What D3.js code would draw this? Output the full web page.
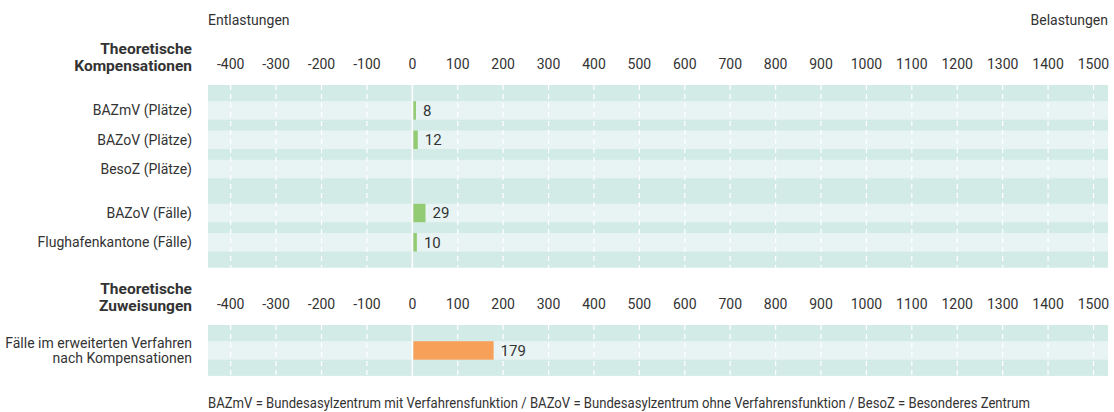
<!DOCTYPE html>
<html><head><meta charset="utf-8">
<script src="https://cdn.jsdelivr.net/npm/d3@7"></script>
<style>
html,body{margin:0;padding:0;background:#fff;}
svg text{font-family:Roboto,"Noto Sans",sans-serif;fill:#333;}
</style></head>
<body><svg id="c" width="1114" height="412"></svg>
<script>
// ---- data ----
const ticks = [-400,-300,-200,-100,0,100,200,300,400,500,600,700,800,900,1000,1100,1200,1300,1400,1500];
const compGroup1 = ["BAZmV (Plätze)","BAZoV (Plätze)","BesoZ (Plätze)"];
const compGroup1Values = [8, 12, null];
const compGroup2 = ["BAZoV (Fälle)","Flughafenkantone (Fälle)"];
const compGroup2Values = [29, 10];
const zuwCategories = [["Fälle im erweiterten Verfahren","nach Kompensationen"]];
const zuwValues = [179];
const section1Title = ["Theoretische","Kompensationen"];
const section2Title = ["Theoretische","Zuweisungen"];
const leftLabel = "Entlastungen", rightLabel = "Belastungen";
const footnote = "BAZmV = Bundesasylzentrum mit Verfahrensfunktion / BAZoV = Bundesasylzentrum ohne Verfahrensfunktion / BesoZ = Besonderes Zentrum";

// ---- layout ----
const svg = d3.select("#c");
const x = d3.scaleLinear().domain([-450, 1532]).range([208, 1108]);
const darkBand = "#d3ebe7", lightBand = "#e8f4f4";
const green = "#93cb74", orange = "#f6a05a";
const step = 29.3, bandH = 18.5, pad = 16.2;
const labelX = 192;

function panel(top, rows, nSlots, color, title, titleY, tickY) {
  const height = pad*2 + (nSlots-1)*step + bandH;
  const y = d3.scaleLinear().domain([0,1]).range([top+pad, top+pad+step]);
  const g = svg.append("g");
  g.append("rect").attr("x", x.range()[0]).attr("y", top).attr("width", x.range()[1]-x.range()[0]).attr("height", height).attr("fill", darkBand);
  g.selectAll("rect.band").data(rows).join("rect").attr("class","band")
    .attr("x", x.range()[0]).attr("width", x.range()[1]-x.range()[0])
    .attr("y", d=>y(d.slot)).attr("height", bandH).attr("fill", lightBand);
  // grid
  g.selectAll("line.grid").data(ticks.filter(t=>t!==0)).join("line").attr("class","grid")
    .attr("x1", d=>x(d)).attr("x2", d=>x(d)).attr("y1", top).attr("y2", top+height)
    .attr("stroke", "#fff").attr("stroke-width", 1.2).attr("stroke-dasharray", "5,4");
  g.append("line").attr("x1", x(0)).attr("x2", x(0)).attr("y1", top).attr("y2", top+height)
    .attr("stroke", "#fff").attr("stroke-width", 1.5);
  // bars
  const withVal = rows.filter(d=>d.value!=null);
  g.selectAll("rect.bar").data(withVal).join("rect").attr("class","bar")
    .attr("x", x(0)+1).attr("width", d=>x(d.value)-x(0)-1)
    .attr("y", d=>y(d.slot)).attr("height", bandH).attr("fill", color);
  g.selectAll("text.val").data(withVal).join("text").attr("class","val")
    .attr("x", d=>x(d.value)+7).attr("y", d=>y(d.slot)+bandH/2).attr("dy","0.36em")
    .attr("font-size", 15).text(d=>d.value);
  // category labels
  rows.forEach(d=>{
    const lines = Array.isArray(d.label)? d.label : [d.label];
    const cy = y(d.slot)+bandH/2;
    lines.forEach((l,i)=>{
      g.append("text").attr("x", labelX).attr("y", cy + (i-(lines.length-1)/2)*15.5).attr("dy","0.36em")
        .attr("text-anchor","end").attr("font-size", 14).text(l);
    });
  });
  // title
  title.forEach((t,i)=>{
    g.append("text").attr("x", labelX).attr("y", titleY + i*17).attr("dy","0.36em")
      .attr("text-anchor","end").attr("font-size", 15.5).attr("font-weight","bold").attr("fill","#222").text(t);
  });
  // ticks
  g.selectAll("text.tick").data(ticks).join("text").attr("class","tick")
    .attr("x", d=>x(d)).attr("y", tickY).attr("dy","0.36em").attr("text-anchor","middle")
    .attr("font-size", 14).text(d=>d);
}

const rows1 = compGroup1.map((c,i)=>({label:c, value:compGroup1Values[i], slot:i}))
  .concat(compGroup2.map((c,i)=>({label:c, value:compGroup2Values[i], slot:compGroup1.length+0.5+i})));
panel(85, rows1, compGroup1.length+0.5+compGroup2.length, green, section1Title, 48, 64);

const rows2 = zuwCategories.map((c,i)=>({label:c, value:zuwValues[i], slot:i}));
panel(325, rows2, 1, orange, section2Title, 288, 304);

svg.append("text").attr("x", 208).attr("y", 20).attr("dy","0.36em").attr("font-size",14).text(leftLabel);
svg.append("text").attr("x", 1108).attr("y", 20).attr("dy","0.36em").attr("text-anchor","end").attr("font-size",14).text(rightLabel);
svg.append("text").attr("x", 208).attr("y", 403).attr("dy","0.36em").attr("font-size",14)
  .attr("textLength", 822).attr("lengthAdjust","spacingAndGlyphs").text(footnote);
</script></body></html>
